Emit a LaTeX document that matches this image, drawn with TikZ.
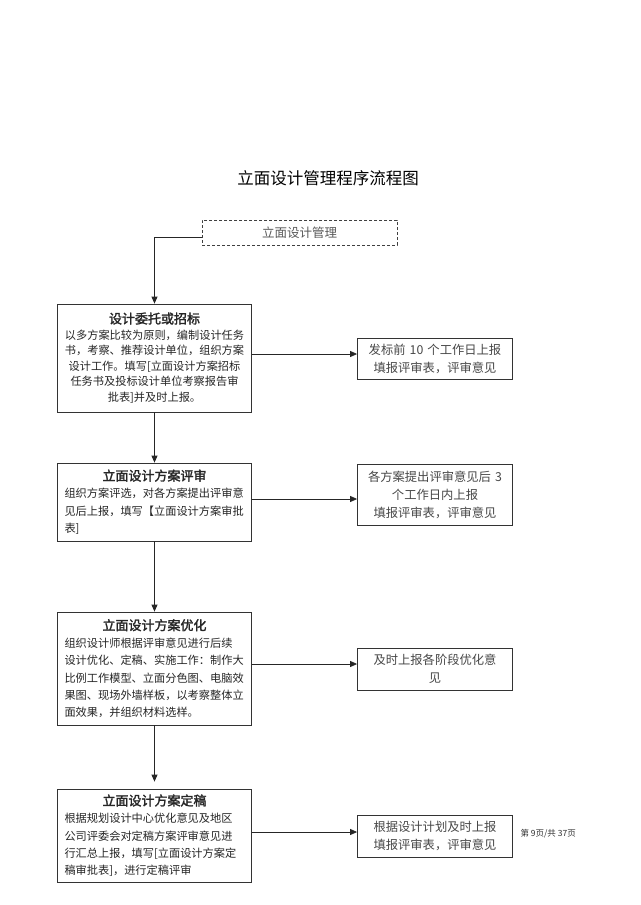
\documentclass[tikz,border=0pt]{standalone}
\usepackage{fontspec}
\setmainfont{Noto Sans CJK SC}[AutoFakeBold=2]
\usetikzlibrary{arrows.meta}
\newcommand\boxhead[1]{\makebox[180pt]{\fontsize{13pt}{16pt}\selectfont\bfseries #1}}
\tikzset{
  box/.style={draw=black!80, line width=0.8pt, rectangle, inner sep=0pt,
    minimum width=194pt, text width=180pt, text=black!85,
    font=\fontsize{11.2pt}{17.3pt}\selectfont},
  rbox/.style={draw=black!80, line width=0.8pt, rectangle, inner sep=0pt,
    minimum width=155pt, text width=150pt, align=center, text=black!72,
    font=\fontsize{12.3pt}{18pt}\selectfont},
  dbox/.style={draw=black!75, line width=0.8pt, dash pattern=on 3pt off 2pt,
    rectangle, inner sep=0pt, minimum width=195pt, minimum height=25pt,
    text=black!65, font=\fontsize{12.5pt}{15pt}\selectfont},
  arr/.style={draw=black!85, line width=0.8pt, -{Triangle[length=7pt,width=6pt]}},
}
\begin{document}
\begin{tikzpicture}[x=1pt,y=-1pt]
\fill[white] (0,0) rectangle (640,905);
\useasboundingbox (0,0) rectangle (640,905);

\node[text=black, font=\fontsize{16.5pt}{20pt}\selectfont] (title) at (328,178) {立面设计管理程序流程图};

\node[dbox] (d) at (299.5,232.5) {立面设计管理};

\node[box, align=center, minimum height=108pt, font=\fontsize{11.2pt}{15.6pt}\selectfont] (b1) at (154.5,358) {\boxhead{设计委托或招标}\\
以多方案比较为原则，编制设计任务\\
书，考察、推荐设计单位，组织方案\\
设计工作。填写[立面设计方案招标\\
任务书及投标设计单位考察报告审\\
批表]并及时上报。};

\node[box, align=left, minimum height=78pt] (b2) at (154.5,502) {\boxhead{立面设计方案评审}\\
组织方案评选，对各方案提出评审意\\
见后上报，填写【立面设计方案审批\\
表]};

\node[box, align=left, minimum height=113pt] (b3) at (154.5,668.5) {\boxhead{立面设计方案优化}\\
组织设计师根据评审意见进行后续\\
设计优化、定稿、实施工作：制作大\\
比例工作模型、立面分色图、电脑效\\
果图、现场外墙样板，以考察整体立\\
面效果，并组织材料选样。};

\node[box, align=left, minimum height=93pt] (b4) at (154.5,835.5) {\boxhead{立面设计方案定稿}\\
根据规划设计中心优化意见及地区\\
公司评委会对定稿方案评审意见进\\
行汇总上报，填写[立面设计方案定\\
稿审批表]，进行定稿评审};

\node[rbox, minimum height=41pt] (r1) at (435,358.5) {发标前 10 个工作日上报\\填报评审表，评审意见};
\node[rbox, minimum height=61pt] (r2) at (435,494.5) {各方案提出评审意见后 3\\个工作日内上报\\填报评审表，评审意见};
\node[rbox, minimum height=42pt] (r3) at (435,669) {及时上报各阶段优化意\\见};
\node[rbox, minimum height=42pt] (r4) at (435,836) {根据设计计划及时上报\\填报评审表，评审意见};

\node[text=black!80, font=\fontsize{8.5pt}{10pt}\selectfont, anchor=west] (pg) at (517,834) {第 9页/共 37页};

% connectors
\path (d.west) ++(0,4.5) coordinate (d0);
\draw[arr] (d0) -| (b1.north);
\draw[arr] (b1.south) -- (b2.north);
\draw[arr] (b2.south) -- (b3.north);
\draw[arr, shorten >=7pt] (b3.south) -- (b4.north);

\path (b1.east) ++(0,-4) coordinate (a1);
\path (b2.east) ++(0,-3) coordinate (a2);
\path (b3.east) ++(0,-4.5) coordinate (a3);
\path (b4.east) ++(0,-3.5) coordinate (a4);
\draw[arr] (a1) -- (a1 -| r1.west);
\draw[arr] (a2) -- (a2 -| r2.west);
\draw[arr] (a3) -- (a3 -| r3.west);
\draw[arr] (a4) -- (a4 -| r4.west);
\end{tikzpicture}
\end{document}
